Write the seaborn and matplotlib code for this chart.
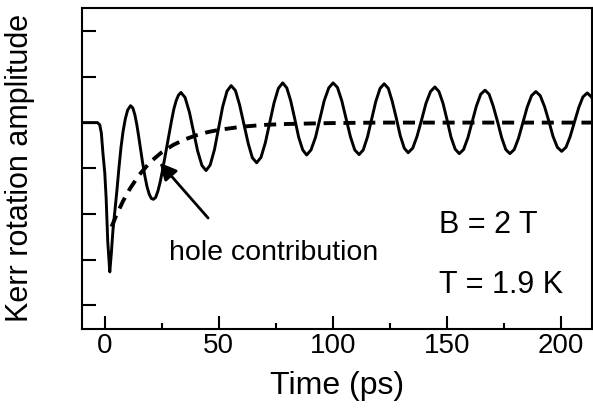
import matplotlib
matplotlib.use("Agg")
import matplotlib.pyplot as plt
import seaborn as sns
import pandas as pd

# ---- data ----
time_total = [-11.0, -3.2, -2.2, -1.5, -0.75, 0.0, 0.6, 1.3, 2.2, 2.9, 3.6, 4.4, 5.3, 6.2, 7.1, 8.0,
              9.0, 10.0, 11.3, 12.3, 13.2, 14.0, 14.8, 15.6, 16.5, 17.5, 18.5, 19.5, 20.4, 21.3,
              22.3, 23.3, 24.3, 25.3, 26.3, 27.3, 28.3, 29.3, 30.3, 31.3, 32.3,
              33.4, 35.2, 37.1, 38.9, 40.7, 42.6, 44.4, 46.2, 48.1, 49.9, 51.7, 53.6,
              55.4, 57.3, 59.1, 61.0, 62.9, 64.7, 66.6, 68.5, 70.4, 72.3, 74.2, 76.1,
              78.0, 79.8, 81.5, 83.3, 85.0, 86.8, 88.5, 90.4, 92.4, 94.3, 96.2, 98.2,
              100.1, 102.0, 103.9, 105.8, 107.7, 109.6, 111.5, 113.3, 115.2, 117.0, 118.8, 120.7,
              122.5, 124.3, 126.0, 127.8, 129.5, 131.3, 133.0, 135.0, 136.9, 138.9, 140.8, 142.8,
              144.7, 146.5, 148.3, 150.1, 151.8, 153.6, 155.4, 157.3, 159.2, 161.1, 162.9, 164.8,
              166.7, 168.5, 170.3, 172.2, 174.0, 175.8, 177.6, 179.5, 181.4, 183.3, 185.2, 187.1,
              189.0, 190.9, 192.8, 194.7, 196.5, 198.4, 200.3, 202.2, 204.0, 205.9, 207.8, 209.6,
              211.5, 213.4, 215.2]
kerr_total = [0.0, 0.0, -0.05, -0.23, -0.70, -1.10, -1.65, -2.60, -3.27, -2.85, -2.35, -1.95, -1.50, -1.00, -0.55, -0.20,
              0.08, 0.27, 0.37, 0.32, 0.17, -0.03, -0.28, -0.55, -0.85, -1.15, -1.40, -1.57, -1.66, -1.68,
              -1.64, -1.50, -1.30, -1.05, -0.78, -0.50, -0.22, 0.05, 0.30, 0.48, 0.60,
              0.66, 0.55, 0.23, -0.20, -0.62, -0.94, -1.05, -0.93, -0.59, -0.12, 0.35, 0.69,
              0.81, 0.70, 0.39, -0.04, -0.46, -0.77, -0.88, -0.76, -0.44, -0.01, 0.43, 0.75,
              0.87, 0.76, 0.48, 0.08, -0.32, -0.60, -0.71, -0.60, -0.32, 0.08, 0.48, 0.76,
              0.87, 0.77, 0.48, 0.09, -0.31, -0.60, -0.70, -0.60, -0.31, 0.08, 0.46, 0.75,
              0.85, 0.75, 0.47, 0.10, -0.28, -0.56, -0.66, -0.56, -0.30, 0.06, 0.42, 0.68,
              0.78, 0.68, 0.42, 0.05, -0.32, -0.58, -0.68, -0.59, -0.33, 0.02, 0.36, 0.62,
              0.71, 0.62, 0.36, 0.02, -0.33, -0.59, -0.68, -0.59, -0.34, 0.00, 0.34, 0.59,
              0.68, 0.59, 0.35, 0.03, -0.30, -0.54, -0.63, -0.54, -0.31, 0.01, 0.33, 0.56,
              0.65, 0.56, 0.33]

time_hole = [3, 5, 8, 11, 15, 20, 25, 30, 35, 40, 45, 50, 60, 70, 80, 100, 120, 215]
kerr_hole = [-2.28, -2.04, -1.72, -1.45, -1.15, -0.86, -0.65, -0.49, -0.37, -0.28, -0.21, -0.16,
             -0.09, -0.05, -0.03, -0.01, 0.0, 0.0]

x_ticks = [0, 50, 100, 150, 200]
x_minor = [25, 75, 125, 175]
y_ticks = [-4, -3, -2, -1, 0, 1, 2]

df_total = pd.DataFrame({"t": time_total, "k": kerr_total})
df_hole = pd.DataFrame({"t": time_hole, "k": kerr_hole})

sns.set_style("ticks")
plt.rcParams["font.family"] = ["Liberation Sans", "DejaVu Sans"]
plt.rcParams.update({"text.color": "black", "axes.labelcolor": "black",
                     "xtick.color": "black", "ytick.color": "black",
                     "axes.edgecolor": "black"})

W, H = 593, 408
fig = plt.figure(figsize=(W / 100, H / 100), dpi=100)
L, R, T, B = 81.5, 592.0, 8.0, 328.5
ax = fig.add_axes([L / W, (H - B) / H, (R - L) / W, (B - T) / H])

sns.lineplot(data=df_total, x="t", y="k", ax=ax, color="black", linewidth=2.1,
             sort=False, estimator=None)
sns.lineplot(data=df_hole, x="t", y="k", ax=ax, color="black", linewidth=2.8,
             linestyle=(0, (3.1, 2.0)), sort=False, estimator=None)

ax.set_xlim(-10.2, 213.6)
ax.set_ylim(-4.51, 2.51)
ax.set_xticks(x_ticks)
ax.set_xticks(x_minor, minor=True)
ax.set_yticks(y_ticks)
ax.set_yticklabels([])
ax.tick_params(axis="x", which="major", direction="in", length=9.5, width=1.5,
               labelsize=20, pad=3, colors="black")
ax.tick_params(axis="x", which="minor", direction="in", length=4.5, width=1.5, colors="black")
ax.tick_params(axis="y", which="major", direction="in", length=10, width=1.5, colors="black")
for s in ax.spines.values():
    s.set_linewidth(1.5)
    s.set_color("black")

ax.set_xlabel("Time (ps)", fontsize=23, labelpad=9, color="black")
ax.set_ylabel("Kerr rotation amplitude", fontsize=22, labelpad=30, color="black")

ax.annotate("", xy=(24.1, -0.88), xytext=(45.3, -2.09),
            arrowprops=dict(arrowstyle="-|>", lw=2, color="black", mutation_scale=25,
                            shrinkA=0, shrinkB=0))
ax.text(28.3, -3.0, "hole contribution", fontsize=20.5, ha="left", va="baseline", color="black")
ax.text(146.5, -2.41, "B = 2 T", fontsize=22, ha="left", va="baseline", color="black")
ax.text(146.5, -3.73, "T = 1.9 K", fontsize=22, ha="left", va="baseline", color="black")

fig.savefig("out.png", dpi=100)
